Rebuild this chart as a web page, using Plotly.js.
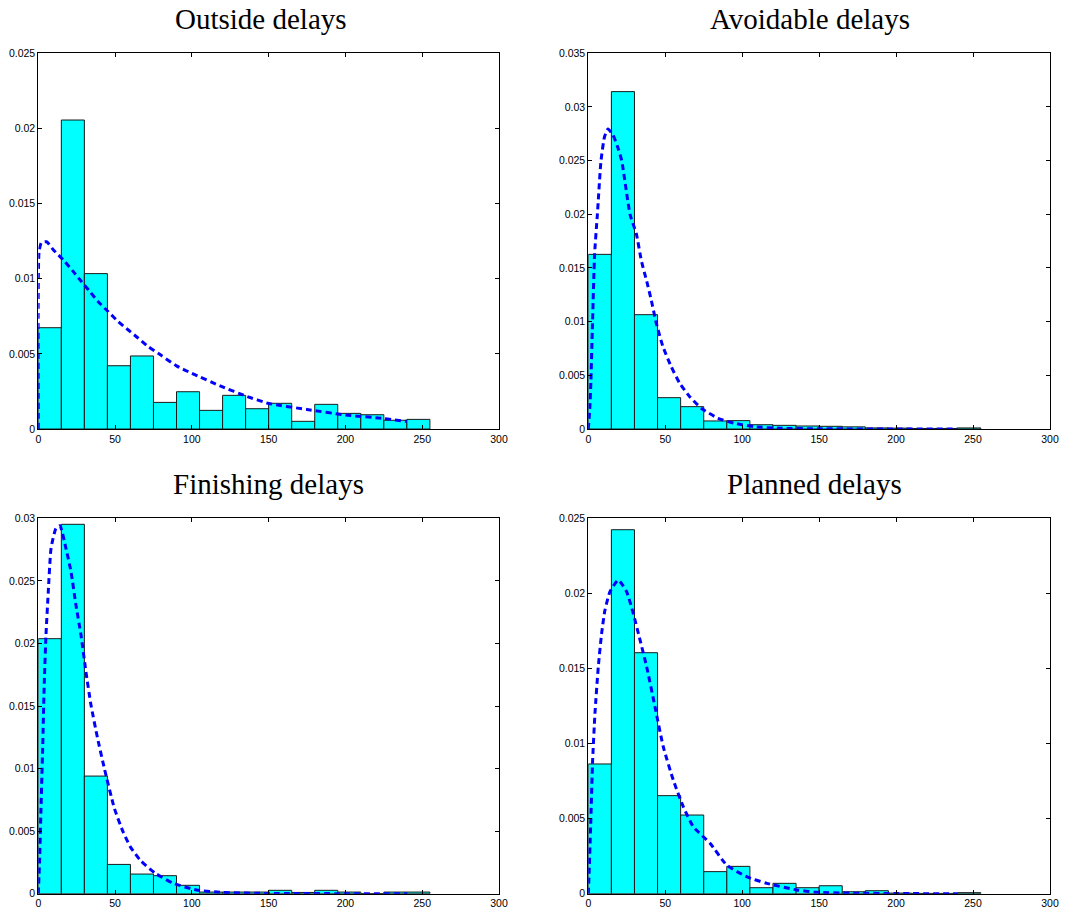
<!DOCTYPE html>
<html>
<head>
<meta charset="utf-8">
<script src="https://cdn.plot.ly/plotly-3.0.1.min.js"></script>
<style>html,body{margin:0;padding:0;background:#fff;}#chart{width:1079px;height:915px;}</style>
</head>
<body>
<div id="chart"></div>
<script>
// Histogram bin centers (bin width 15)
const binCenters = [7.5, 22.5, 37.5, 52.5, 67.5, 82.5, 97.5, 112.5, 127.5, 142.5, 157.5, 172.5, 187.5, 202.5, 217.5, 232.5, 247.5];
const binWidth = 15;

const titles = ["Outside delays", "Avoidable delays", "Finishing delays", "Planned delays"];

// Histogram densities
const outsideBars   = [0.00674, 0.02056, 0.01034, 0.00421, 0.00486, 0.00177, 0.00248, 0.00124, 0.00224, 0.00135, 0.00171, 0.00051, 0.00164, 0.00104, 0.00095, 0.00058, 0.00064];
const avoidableBars = [0.01627, 0.03143, 0.01065, 0.00292, 0.00208, 0.00075, 0.00078, 0.00040, 0.00034, 0.00028, 0.00025, 0.00020, 0.00010, 0.00008, 0.00005, 0.00005, 0.00010];
const finishingBars = [0.02038, 0.02952, 0.00940, 0.00234, 0.00157, 0.00144, 0.00067, 0.00013, 0.00013, 0.00013, 0.00027, 0.00010, 0.00027, 0.00013, 0.00000, 0.00013, 0.00013];
const plannedBars   = [0.00864, 0.02424, 0.01605, 0.00653, 0.00524, 0.00147, 0.00182, 0.00040, 0.00069, 0.00040, 0.00053, 0.00013, 0.00020, 0.00004, 0.00002, 0.00002, 0.00007];

// Fitted density curves
const outsideFitX = [0, 0.5, 2, 5.4, 10, 16.3, 22.8, 28.2, 33.6, 39, 45.6, 52.1, 58.6, 65.1, 71.6, 80, 90, 100, 120, 135, 150, 175, 200, 225, 240];
const outsideFitY = [0, 0.0118, 0.0124, 0.01246, 0.0119, 0.01125, 0.01047, 0.0098, 0.00914, 0.00847, 0.0078, 0.00714, 0.00659, 0.00604, 0.00548, 0.0049, 0.0042, 0.0037, 0.0028, 0.0022, 0.0017, 0.0013, 0.00093, 0.0007, 0.0005];

const avoidableFitX = [0, 1, 1.7, 2.6, 4.1, 5.9, 8.25, 10.5, 12.8, 16, 19, 21.7, 27.1, 31.2, 34.4, 38.3, 40.9, 44.2, 48.5, 53.9, 59.4, 65.9, 73.4, 84.3, 95.1, 108, 125, 150, 200, 240];
const avoidableFitY = [0, 0.002, 0.0045, 0.0092, 0.0163, 0.0200, 0.0250, 0.0272, 0.02795, 0.0274, 0.0263, 0.0250, 0.0200, 0.0182, 0.01574, 0.01357, 0.01202, 0.00985, 0.00767, 0.0058, 0.00426, 0.00301, 0.00193, 0.0010, 0.00053, 0.00021, 0.00007, 0.00002, 0.000005, 0];

const finishingFitX = [0, 0.8, 1.76, 2.84, 3.9, 5.0, 6.5, 8.3, 11.5, 14.1, 18.0, 21.3, 24.5, 27.8, 31.0, 34.3, 38.6, 43.0, 49.5, 55, 59.7, 66.2, 76, 87.9, 103, 120, 150, 200, 240];
const finishingFitY = [0, 0.0025, 0.00683, 0.01162, 0.01694, 0.02067, 0.02413, 0.0276, 0.0292, 0.02941, 0.0276, 0.02573, 0.02307, 0.02067, 0.01774, 0.01508, 0.01242, 0.01002, 0.00683, 0.0050, 0.0038, 0.0027, 0.00165, 0.00083, 0.0003, 0.0001, 0.00002, 0.000005, 0];

const plannedFitX = [0, 0.43, 1.52, 2.82, 4.33, 6.5, 8.66, 10.83, 14.08, 19.5, 24.9, 29.2, 33.6, 37.9, 43.3, 48.7, 55.2, 61.7, 68.2, 79.1, 89.9, 102.9, 115.9, 135.4, 148, 170, 200, 240];
const plannedFitY = [0, 0.0011, 0.00446, 0.0089, 0.01201, 0.01512, 0.01734, 0.01889, 0.02011, 0.02089, 0.02011, 0.01867, 0.0169, 0.01512, 0.01246, 0.00979, 0.00757, 0.0058, 0.00446, 0.00336, 0.00191, 0.00113, 0.00069, 0.00025, 0.0001, 0.00004, 0.00001, 0];

const yMax = [0.025, 0.035, 0.03, 0.025];

const bars = [outsideBars, avoidableBars, finishingBars, plannedBars];
const fitX = [outsideFitX, avoidableFitX, finishingFitX, plannedFitX];
const fitY = [outsideFitY, avoidableFitY, finishingFitY, plannedFitY];

const W = 1079, H = 915;
// plot boxes in pixels [left, right, top, bottom]
const boxes = [
  [38.3, 499, 53.3, 429],
  [588.3, 1050, 53.3, 429],
  [38.3, 499, 518.3, 893.7],
  [588.3, 1050, 518.3, 893.7]
];
const titleCenters = [[260.5, 19], [810, 19], [268, 484], [814, 484]];

const traces = [];
const layout = {
  width: W, height: H,
  margin: {l: 0, r: 0, t: 0, b: 0},
  paper_bgcolor: '#fff', plot_bgcolor: '#fff',
  showlegend: false,
  annotations: []
};

const tickFont = {family: 'Liberation Sans, Arial, sans-serif', size: 10.5, color: '#000'};

for (let i = 0; i < 4; i++) {
  const sfx = i === 0 ? '' : String(i + 1);
  const xa = 'x' + sfx, ya = 'y' + sfx;
  traces.push({
    type: 'bar', x: binCenters, y: bars[i], width: binWidth,
    xaxis: xa, yaxis: ya,
    marker: {color: '#00FFFF', line: {color: '#1a1a1a', width: 1}},
    hoverinfo: 'x+y'
  });
  traces.push({
    type: 'scatter', mode: 'lines', x: fitX[i], y: fitY[i],
    xaxis: xa, yaxis: ya,
    line: {color: '#0000FF', width: 3, dash: '6px,4px', shape: 'spline', smoothing: 0.5},
    cliponaxis: true
  });
  const b = boxes[i];
  layout['xaxis' + sfx] = {
    domain: [b[0] / W, b[1] / W], anchor: ya,
    range: [0, 300], dtick: 50, tick0: 0,
    showline: true, linecolor: '#000', linewidth: 1, mirror: 'ticks',
    ticks: 'inside', ticklen: 4, tickcolor: '#000', tickwidth: 1,
    showgrid: false, zeroline: false, tickfont: tickFont, fixedrange: true
  };
  layout['yaxis' + sfx] = {
    domain: [1 - b[3] / H, 1 - b[2] / H], anchor: xa,
    range: [0, yMax[i]], dtick: 0.005, tick0: 0,
    showline: true, linecolor: '#000', linewidth: 1, mirror: 'ticks',
    ticks: 'inside', ticklen: 4, tickcolor: '#000', tickwidth: 1,
    showgrid: false, zeroline: false, tickfont: tickFont, fixedrange: true
  };
  layout.annotations.push({
    text: titles[i], xref: 'paper', yref: 'paper',
    x: titleCenters[i][0] / W, y: 1 - titleCenters[i][1] / H,
    xanchor: 'center', yanchor: 'middle', showarrow: false,
    font: {family: 'Liberation Serif, Times New Roman, serif', size: 29, color: '#000'}
  });
}

Plotly.newPlot('chart', traces, layout, {displayModeBar: false, staticPlot: true});
</script>
</body>
</html>
